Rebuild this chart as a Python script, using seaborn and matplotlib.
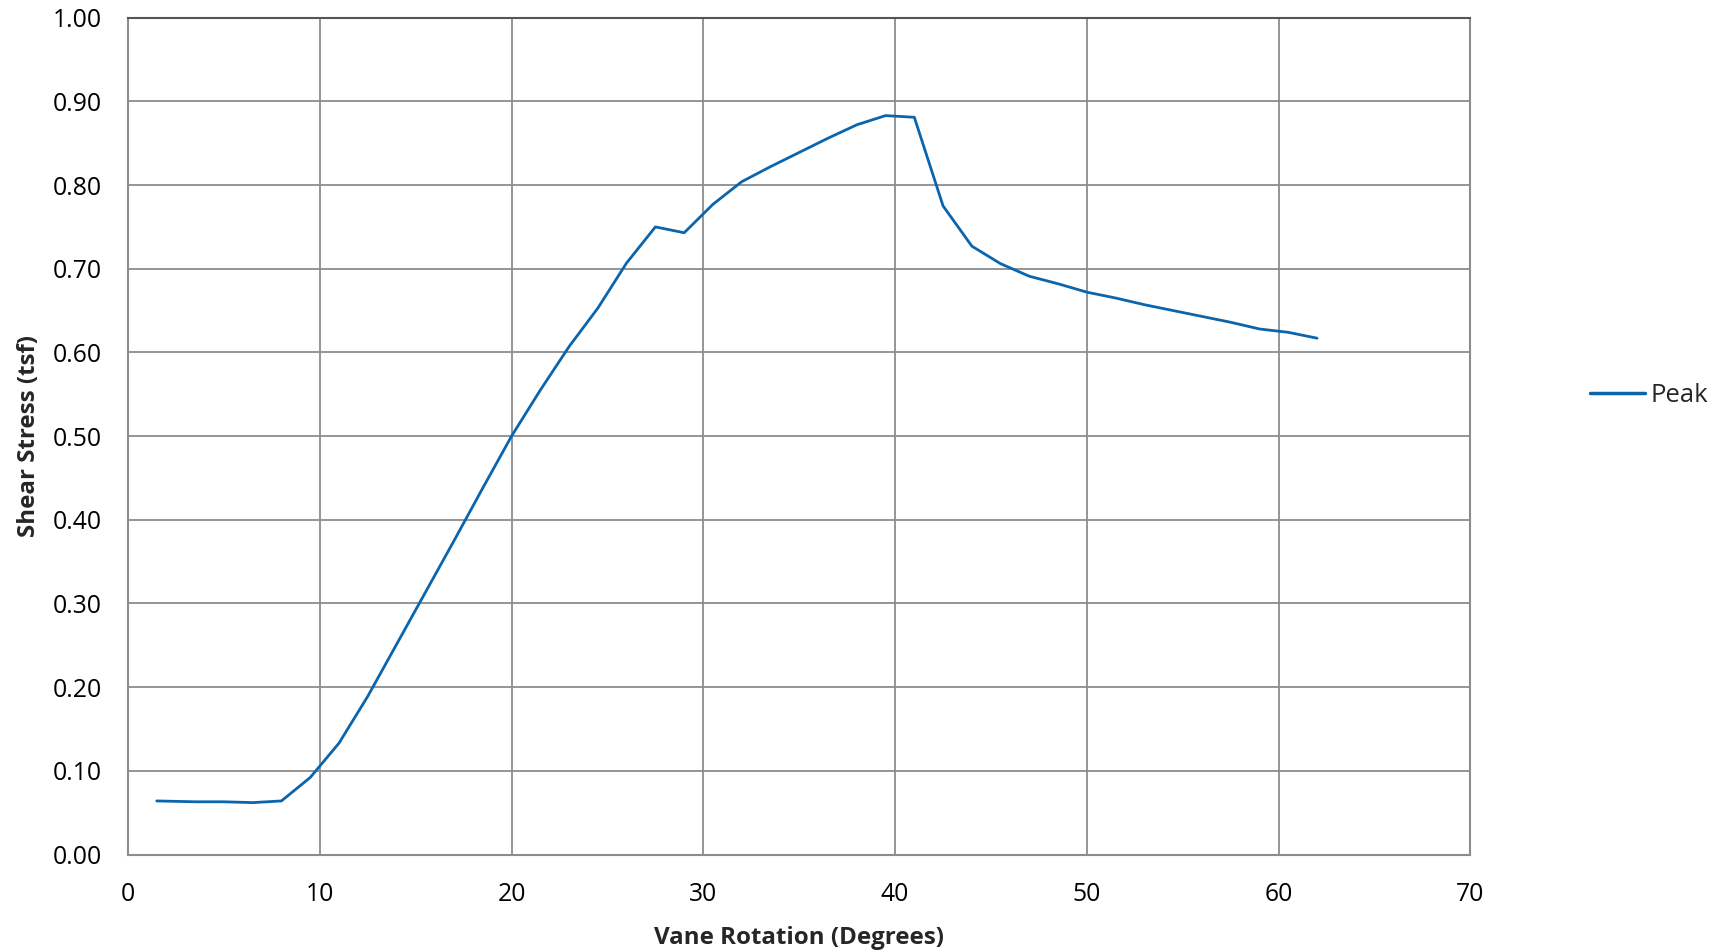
import matplotlib
matplotlib.use("Agg")
import matplotlib.pyplot as plt
import seaborn as sns
import pandas as pd

rotation = [1.5, 3.5, 5, 6.5, 8, 9.5, 11, 12.5, 14, 15.5, 17, 18.5, 20, 21.5, 23, 24.5,
            26, 27.5, 29, 30.5, 32, 33.5, 35, 36.5, 38, 39.5, 41, 42.5, 44, 45.5, 47,
            48.5, 50, 51.5, 53, 54.5, 56, 57.5, 59, 60.5, 62]
stress = [0.064, 0.063, 0.063, 0.062, 0.064, 0.092, 0.133, 0.189, 0.251, 0.313, 0.375,
          0.438, 0.500, 0.555, 0.607, 0.653, 0.707, 0.750, 0.743, 0.777, 0.804, 0.822,
          0.839, 0.856, 0.872, 0.883, 0.881, 0.775, 0.727, 0.706, 0.691, 0.682, 0.672,
          0.665, 0.657, 0.650, 0.643, 0.636, 0.628, 0.624, 0.617]
series = "Peak"
xticks = [0, 10, 20, 30, 40, 50, 60, 70]
yticks = [0.0, 0.1, 0.2, 0.3, 0.4, 0.5, 0.6, 0.7, 0.8, 0.9, 1.0]
xlabel = "Vane Rotation (Degrees)"
ylabel = "Shear Stress (tsf)"

df = pd.DataFrame({"x": rotation, "y": stress, "s": [series] * len(rotation)})

sns.set_style("white")
plt.rcParams["font.family"] = ["Open Sans", "DejaVu Sans"]

fig = plt.figure(figsize=(17.31, 9.52), dpi=100)
ax = fig.add_axes([128 / 1731, 1 - 854.5 / 952, (1470.5 - 128) / 1731, (854.5 - 17.7) / 952])

sns.lineplot(data=df, x="x", y="y", hue="s", palette=["#0B65AD"], linewidth=2.0,
             ax=ax, legend=True, sort=False)

ax.set_xlim(0, 70)
ax.set_ylim(0, 1.0)
ax.set_xticks(xticks)
ax.set_yticks(yticks)
ax.set_xticklabels([str(t) for t in xticks])
ax.set_yticklabels([f"{t:.2f}" for t in yticks])
ax.tick_params(axis="both", labelsize=17.8, colors="#898989", labelcolor="black",
               direction="out", length=6, width=1.5)
ax.tick_params(axis="y", pad=13)
ax.tick_params(axis="x", pad=13.5)
ax.grid(True, color="#8c8c8c", linewidth=1.3)
ax.set_axisbelow(True)
for side in ["left", "bottom", "right", "top"]:
    ax.spines[side].set_visible(True)
    ax.spines[side].set_color("#8c8c8c")
    ax.spines[side].set_linewidth(1.5)
ax.spines["top"].set_color("#555555")

ax.set_xlabel(xlabel, fontsize=17.4, fontweight="bold", labelpad=14)
ax.set_ylabel(ylabel, fontsize=17.4, fontweight="bold", labelpad=8.5)

leg = ax.legend(loc="center left", bbox_to_anchor=(1577 / 1731, 1 - 395 / 952),
                bbox_transform=fig.transFigure, frameon=False, fontsize=18.5,
                handlelength=2.15, borderpad=0, handletextpad=0.2)
for line in leg.get_lines():
    line.set_linewidth(2.5)

fig.savefig("out.png", dpi=100)
